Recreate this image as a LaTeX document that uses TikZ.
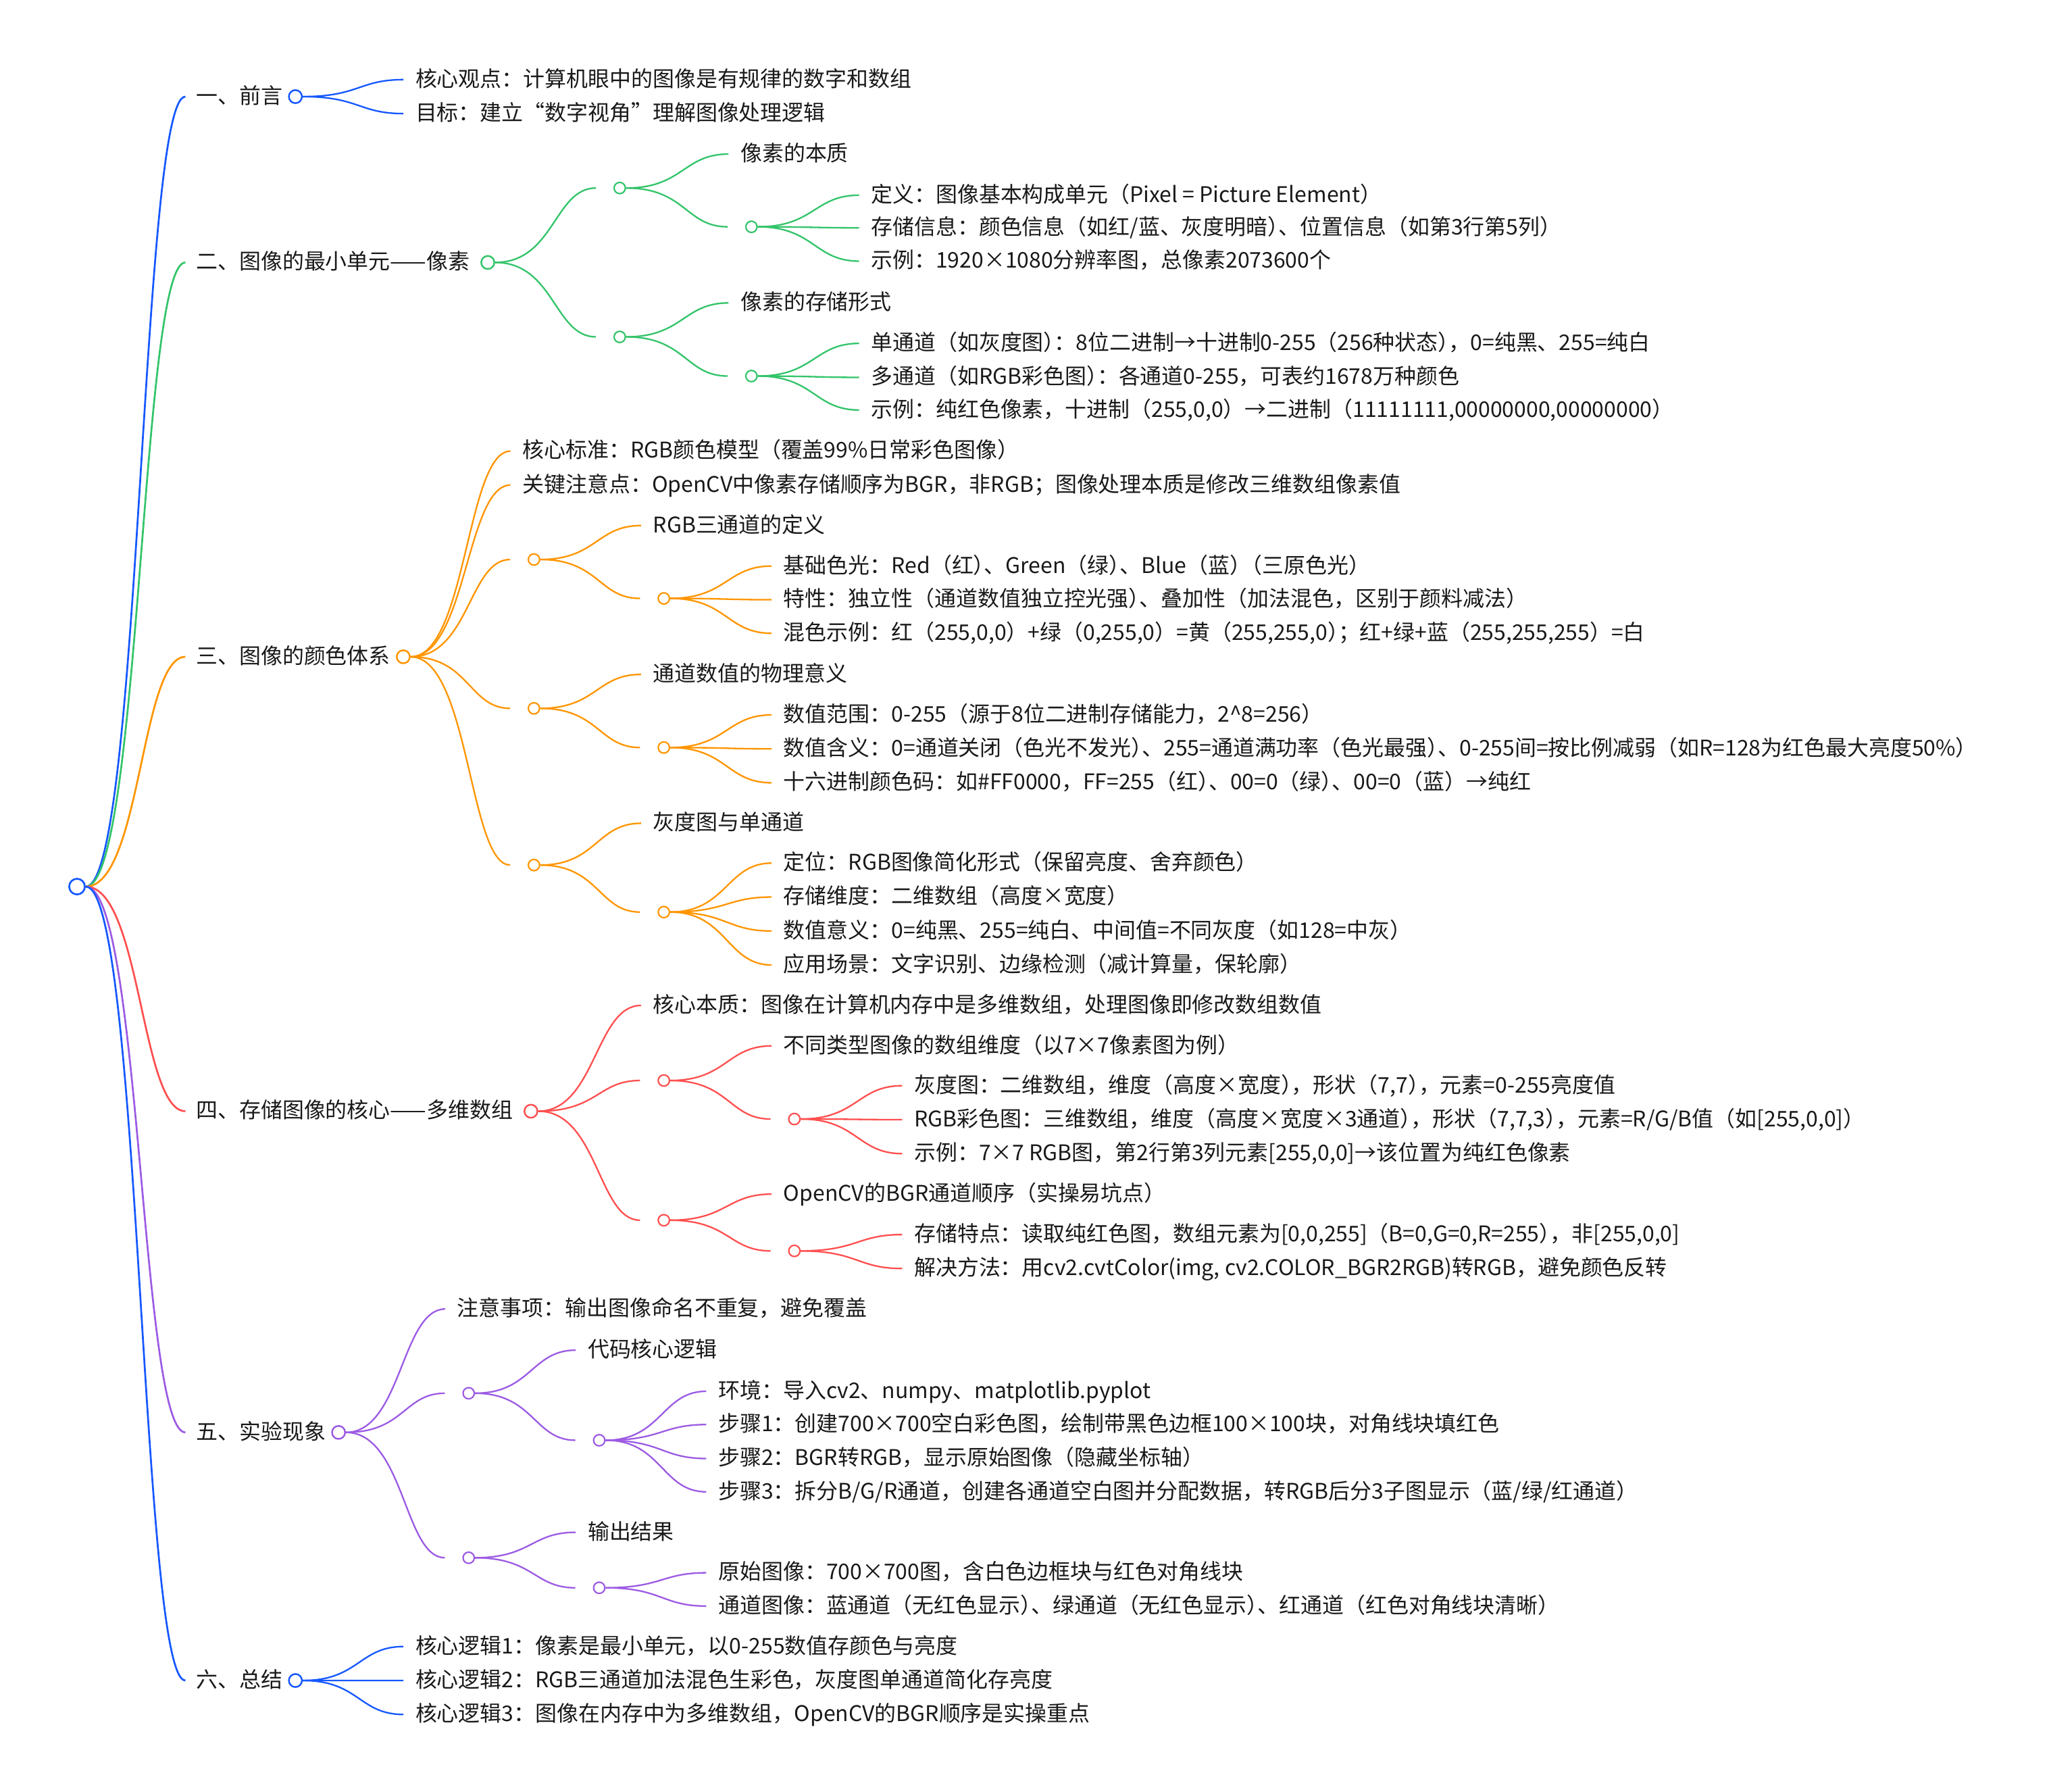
\documentclass[tikz,border=0pt]{standalone}
\usepackage{fontspec}
\setmainfont{Noto Sans CJK SC}
\usepackage{tikz}
\usetikzlibrary{positioning,calc}
\definecolor{cblue}{HTML}{1558FF}
\definecolor{cgreen}{HTML}{33C46A}
\definecolor{corange}{HTML}{FF9500}
\definecolor{cred}{HTML}{FF4F4F}
\definecolor{cpurple}{HTML}{9C5BE3}
\newcommand{\pkern}{\kern-.5em}

\begin{document}
\begin{tikzpicture}[x=0.025cm, y=-0.025cm, font=\fontsize{11.75pt}{14pt}\selectfont,
  txt/.style={anchor=west, inner sep=0pt, text=black!90, text height=0.88em, text depth=0.12em},
  root/.style={circle, draw=cblue, fill=white, line width=1pt, minimum size=0.3cm, inner sep=0pt},
  hub/.style={circle, draw, fill=white, line width=0.9pt, minimum size=0.25cm, inner sep=0pt},
  dot/.style={circle, draw, fill=white, line width=0.8pt, minimum size=0.215cm, inner sep=0pt},
  curve/.style={to path={.. controls ($(\tikztostart)!.5!(\tikztostart-|\tikztotarget)$) and ($(\tikztotarget)!.5!(\tikztotarget-|\tikztostart)$) .. (\tikztotarget)}},
  trunk/.style={curve, line width=1pt, shorten >=0.2cm},
  link/.style={curve, line width=0.85pt, shorten >=0.225cm},
  jlink/.style={curve, line width=0.85pt, shorten >=0.335cm}]
\useasboundingbox (0,0) rectangle (1568,1372);
\node[root] (r) at (59,679) {};

\begin{scope}[color=cblue]
\node[txt] (s1) at (150,74) {一、前言};
\node[hub, right=0.1cm of s1] (s1c) {};
\node[txt] (s1a) at (318,61) {核心观点：计算机眼中的图像是有规律的数字和数组};
\node[txt] (s1b) at (318,87) {目标：建立“数字视角”理解图像处理逻辑};
\path (r.east) edge[trunk] (s1.west);
\path (s1c.east) edge[link] (s1a.west) edge[link] (s1b.west);
\end{scope}

\begin{scope}[color=cgreen]
\node[txt] (s2) at (150,201) {二、图像的最小单元——像素};
\node[hub, right=0.2cm of s2] (s2c) {};
\node[dot] (j21) at (474.7,144) {};
\node[dot] (j22) at (474.7,258) {};
\node[txt] (t21) at (567,118) {像素的本质};
\node[dot] (j211) at (575.6,173.7) {};
\node[txt] (l211) at (667,149.5) {定义：图像基本构成单元（Pixel = Picture Element）};
\node[txt] (l212) at (667,174.5) {存储信息：颜色信息（如红/蓝、灰度明暗）\pkern、位置信息（如第3行第5列）};
\node[txt] (l213) at (667,200) {示例：1920×1080分辨率图，总像素2073600个};
\node[txt] (t22) at (567,232) {像素的存储形式};
\node[dot] (j221) at (575.6,288) {};
\node[txt] (l221) at (667,263) {单通道（如灰度图）\pkern：8位二进制→十进制0-255（256种状态）\pkern，0=纯黑、255=纯白};
\node[txt] (l222) at (667,289) {多通道（如RGB彩色图）\pkern：各通道0-255，可表约1678万种颜色};
\node[txt] (l223) at (667,314) {示例：纯红色像素，十进制（255,0,0）→二进制（11111111,00000000,00000000）};
\path (r.east) edge[trunk] (s2.west);
\path (s2c.east) edge[jlink] (j21.west) edge[jlink] (j22.west);
\path (j21.east) edge[link] (t21.west) edge[jlink] (j211.west);
\path (j211.east) edge[link] (l211.west) edge[link] (l212.west) edge[link] (l213.west);
\path (j22.east) edge[link] (t22.west) edge[jlink] (j221.west);
\path (j221.east) edge[link] (l221.west) edge[link] (l222.west) edge[link] (l223.west);
\end{scope}

\begin{scope}[color=corange]
\node[txt] (s3) at (150,503) {三、图像的颜色体系};
\node[hub, right=0.1cm of s3] (s3c) {};
\node[txt] (s3a) at (400,345.5) {核心标准：RGB颜色模型（覆盖99\%日常彩色图像）};
\node[txt] (s3b) at (400,371.5) {关键注意点：OpenCV中像素存储顺序为BGR，非RGB；图像处理本质是修改三维数组像素值};
\node[dot] (j31) at (409,428.5) {};
\node[dot] (j32) at (409,542.5) {};
\node[dot] (j33) at (409,662.5) {};
\node[txt] (t31) at (500,402.5) {RGB三通道的定义};
\node[dot] (j311) at (508.5,458.3) {};
\node[txt] (l311) at (600,433.5) {基础色光：Red（红）\pkern、Green（绿）\pkern、Blue（蓝）\pkern（三原色光）};
\node[txt] (l312) at (600,459.3) {特性：独立性（通道数值独立控光强）\pkern、叠加性（加法混色，区别于颜料减法）};
\node[txt] (l313) at (600,485) {混色示例：红（255,0,0）+绿（0,255,0）=黄（255,255,0）\pkern；红+绿+蓝（255,255,255）=白};
\node[txt] (t32) at (500,516.5) {通道数值的物理意义};
\node[dot] (j321) at (508.5,572.5) {};
\node[txt] (l321) at (600,547.5) {数值范围：0-255（源于8位二进制存储能力，2\textasciicircum 8=256）};
\node[txt] (l322) at (600,573.5) {数值含义：0=通道关闭（色光不发光）\pkern、255=通道满功率（色光最强）\pkern、0-255间=按比例减弱（如R=128为红色最大亮度50\%）};
\node[txt] (l323) at (600,599.5) {十六进制颜色码：如\#FF0000，FF=255（红）\pkern、00=0（绿）\pkern、00=0（蓝）→纯红};
\node[txt] (t33) at (500,630.5) {灰度图与单通道};
\node[dot] (j331) at (508.5,698.5) {};
\node[txt] (l331) at (600,661) {定位：RGB图像简化形式（保留亮度、舍弃颜色）};
\node[txt] (l332) at (600,687) {存储维度：二维数组（高度×宽度）};
\node[txt] (l333) at (600,713) {数值意义：0=纯黑、255=纯白、中间值=不同灰度（如128=中灰）};
\node[txt] (l334) at (600,739) {应用场景：文字识别、边缘检测（减计算量，保轮廓）};
\path (r.east) edge[trunk] (s3.west);
\path (s3c.east) edge[link] (s3a.west) edge[link] (s3b.west) edge[jlink] (j31.west) edge[jlink] (j32.west) edge[jlink] (j33.west);
\path (j31.east) edge[link] (t31.west) edge[jlink] (j311.west);
\path (j311.east) edge[link] (l311.west) edge[link] (l312.west) edge[link] (l313.west);
\path (j32.east) edge[link] (t32.west) edge[jlink] (j321.west);
\path (j321.east) edge[link] (l321.west) edge[link] (l322.west) edge[link] (l323.west);
\path (j33.east) edge[link] (t33.west) edge[jlink] (j331.west);
\path (j331.east) edge[link] (l331.west) edge[link] (l332.west) edge[link] (l333.west) edge[link] (l334.west);
\end{scope}

\begin{scope}[color=cred]
\node[txt] (s4) at (150,851) {四、存储图像的核心——多维数组};
\node[hub, right=0.2cm of s4] (s4c) {};
\node[txt] (s4a) at (500,770) {核心本质：图像在计算机内存中是多维数组，处理图像即修改数组数值};
\node[dot] (j41) at (508.5,827.5) {};
\node[dot] (j42) at (508.5,934.5) {};
\node[txt] (t41) at (600,801) {不同类型图像的数组维度（以7×7像素图为例）};
\node[dot] (j411) at (608.5,857) {};
\node[txt] (l411) at (700,831.5) {灰度图：二维数组，维度（高度×宽度）\pkern，形状（7,7）\pkern，元素=0-255亮度值};
\node[txt] (l412) at (700,857.5) {RGB彩色图：三维数组，维度（高度×宽度×3通道）\pkern，形状（7,7,3）\pkern，元素=R/G/B值（如[255,0,0]）};
\node[txt] (l413) at (700,883.5) {示例：7×7 RGB图，第2行第3列元素[255,0,0]→该位置为纯红色像素};
\node[txt] (t42) at (600,914.5) {OpenCV的BGR通道顺序（实操易坑点）};
\node[dot] (j421) at (608.5,958) {};
\node[txt] (l421) at (700,945.5) {存储特点：读取纯红色图，数组元素为[0,0,255]（B=0,G=0,R=255）\pkern，非[255,0,0]};
\node[txt] (l422) at (700,971.5) {解决方法：用cv2.cvtColor(img, cv2.COLOR\_BGR2RGB)转RGB，避免颜色反转};
\path (r.east) edge[trunk] (s4.west);
\path (s4c.east) edge[link] (s4a.west) edge[jlink] (j41.west) edge[jlink] (j42.west);
\path (j41.east) edge[link] (t41.west) edge[jlink] (j411.west);
\path (j411.east) edge[link] (l411.west) edge[link] (l412.west) edge[link] (l413.west);
\path (j42.east) edge[link] (t42.west) edge[jlink] (j421.west);
\path (j421.east) edge[link] (l421.west) edge[link] (l422.west);
\end{scope}

\begin{scope}[color=cpurple]
\node[txt] (s5) at (150,1097) {五、实验现象};
\node[hub, right=0.1cm of s5] (s5c) {};
\node[txt] (s5a) at (350,1002.5) {注意事项：输出图像命名不重复，避免覆盖};
\node[dot] (j51) at (359,1067) {};
\node[dot] (j52) at (359,1193) {};
\node[txt] (t51) at (450,1034) {代码核心逻辑};
\node[dot] (j511) at (459,1103) {};
\node[txt] (l511) at (550,1065.5) {环境：导入cv2、numpy、matplotlib.pyplot};
\node[txt] (l512) at (550,1091) {步骤1：创建700×700空白彩色图，绘制带黑色边框100×100块，对角线块填红色};
\node[txt] (l513) at (550,1117) {步骤2：BGR转RGB，显示原始图像（隐藏坐标轴）};
\node[txt] (l514) at (550,1142.5) {步骤3：拆分B/G/R通道，创建各通道空白图并分配数据，转RGB后分3子图显示（蓝/绿/红通道）};
\node[txt] (t52) at (450,1173.5) {输出结果};
\node[dot] (j521) at (459,1216) {};
\node[txt] (l521) at (550,1204.5) {原始图像：700×700图，含白色边框块与红色对角线块};
\node[txt] (l522) at (550,1230) {通道图像：蓝通道（无红色显示）\pkern、绿通道（无红色显示）\pkern、红通道（红色对角线块清晰）};
\path (r.east) edge[trunk] (s5.west);
\path (s5c.east) edge[link] (s5a.west) edge[jlink] (j51.west) edge[jlink] (j52.west);
\path (j51.east) edge[link] (t51.west) edge[jlink] (j511.west);
\path (j511.east) edge[link] (l511.west) edge[link] (l512.west) edge[link] (l513.west) edge[link] (l514.west);
\path (j52.east) edge[link] (t52.west) edge[jlink] (j521.west);
\path (j521.east) edge[link] (l521.west) edge[link] (l522.west);
\end{scope}

\begin{scope}[color=cblue]
\node[txt] (s6) at (150,1287) {六、总结};
\node[hub, right=0.1cm of s6] (s6c) {};
\node[txt] (s6a) at (318,1261) {核心逻辑1：像素是最小单元，以0-255数值存颜色与亮度};
\node[txt] (s6b) at (318,1287) {核心逻辑2：RGB三通道加法混色生彩色，灰度图单通道简化存亮度};
\node[txt] (s6d) at (318,1313) {核心逻辑3：图像在内存中为多维数组，OpenCV的BGR顺序是实操重点};
\path (r.east) edge[trunk] (s6.west);
\path (s6c.east) edge[link] (s6a.west) edge[link] (s6b.west) edge[link] (s6d.west);
\end{scope}
\end{tikzpicture}
\end{document}
